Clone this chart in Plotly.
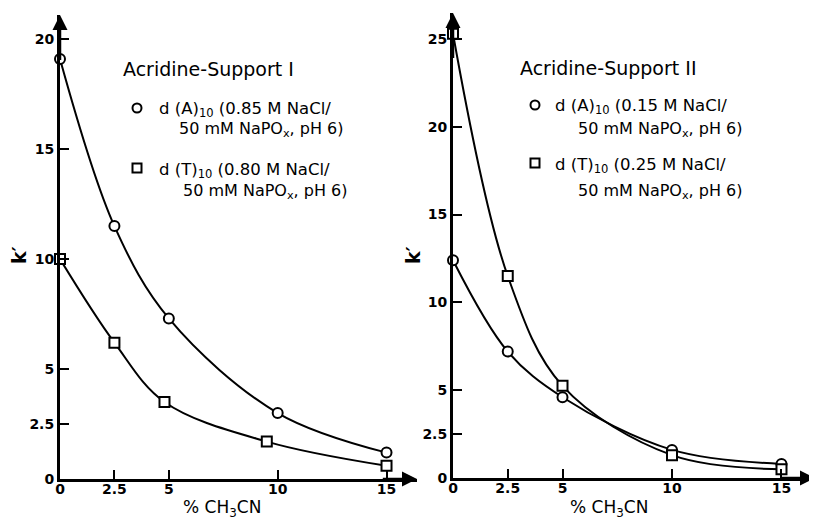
import plotly.graph_objects as go

# the page body adds an 8px margin, so the figure is drawn 8px smaller
OFF = 8
W, H = 817 - OFF, 525 - OFF

# ---- data ----
left_a_x = [0, 2.5, 5, 10, 15]
left_a_y = [19.1, 11.5, 7.3, 3.0, 1.2]
left_t_x = [0, 2.5, 4.8, 9.5, 15]
left_t_y = [10.0, 6.2, 3.5, 1.7, 0.6]

right_a_x = [0, 2.5, 5, 10, 15]
right_a_y = [12.4, 7.2, 4.6, 1.6, 0.8]
right_t_x = [0, 2.5, 5, 10, 15]
right_t_y = [25.3, 11.5, 5.25, 1.3, 0.5]

left_xticks = [0, 2.5, 5, 10, 15]
left_yticks = [0, 2.5, 5, 10, 15, 20]
right_xticks = [0, 2.5, 5, 10, 15]
right_yticks = [0, 2.5, 5, 10, 15, 20, 25]
tick_text = {0: "0", 2.5: "2.5", 5: "5", 10: "10", 15: "15", 20: "20", 25: "25"}

left_title = "Acridine-Support I"
right_title = "Acridine-Support II"
left_labels = [("d (A)<sub>10</sub> (0.85 M NaCl/", "50 mM NaPO<sub>x</sub>, pH 6)"),
               ("d (T)<sub>10</sub> (0.80 M NaCl/", "50 mM NaPO<sub>x</sub>, pH 6)")]
right_labels = [("d (A)<sub>10</sub> (0.15 M NaCl/", "50 mM NaPO<sub>x</sub>, pH 6)"),
                ("d (T)<sub>10</sub> (0.25 M NaCl/", "50 mM NaPO<sub>x</sub>, pH 6)")]
x_title = "% CH<sub>3</sub>CN"
y_title = "k′"

FONT = "DejaVu Sans"


def px(x):
    return (x - OFF) / W


def py(y):
    return 1 - (y - OFF) / H


fig = go.Figure()

line = dict(color="black", width=2, shape="spline", smoothing=1.0)


def add_series(xs, ys, symbol, xa, ya):
    fig.add_trace(go.Scatter(
        x=xs, y=ys, mode="lines+markers", xaxis=xa, yaxis=ya,
        line=line, cliponaxis=False, showlegend=False,
        marker=dict(symbol=symbol, size=10, color="white",
                    line=dict(color="black", width=2))))


add_series(left_a_x, left_a_y, "circle", "x", "y")
add_series(left_t_x, left_t_y, "square", "x", "y")
add_series(right_a_x, right_a_y, "circle", "x2", "y2")
add_series(right_t_x, right_t_y, "square", "x2", "y2")

# axis geometry (pixels in the reference)
LX0, LX1, LY0, LY1 = 60, 417, 479, 15
RX0, RX1, RY0, RY1 = 453, 815, 478, 13
lxr = 16.4
lyr = 21.1
rxr = 16.53
ryr = 26.48

axis_common = dict(showline=True, linecolor="black", linewidth=3,
                   ticks="inside", ticklen=9, tickwidth=2, tickcolor="black",
                   showgrid=False, zeroline=False, automargin=False,
                   tickfont=dict(family=FONT, size=14, color="black", weight="bold"))

fig.update_layout(
    width=W, height=H, autosize=False,
    margin=dict(l=0, r=0, t=0, b=0),
    plot_bgcolor="white", paper_bgcolor="white",
    xaxis=dict(domain=[px(LX0), px(LX1)], range=[0, lxr], anchor="y", ticklabelstandoff=-5,
               tickvals=left_xticks, ticktext=[tick_text[v] for v in left_xticks], **axis_common),
    yaxis=dict(domain=[py(LY0), py(LY1)], range=[0, lyr], anchor="x",
               tickvals=left_yticks, ticktext=[tick_text[v] for v in left_yticks], **axis_common),
    xaxis2=dict(domain=[px(RX0), px(RX1)], range=[0, rxr], anchor="y2", ticklabelstandoff=-5,
                tickvals=right_xticks, ticktext=[tick_text[v] for v in right_xticks], **axis_common),
    yaxis2=dict(domain=[py(RY0), py(RY1)], range=[0, ryr], anchor="x2",
                tickvals=right_yticks, ticktext=[tick_text[v] for v in right_yticks], **axis_common),
)

ann = []
# arrowheads on axes
for xr, yr, xmax, ymax in [("x", "y", lxr, lyr), ("x2", "y2", rxr, ryr)]:
    ann.append(dict(x=xmax, y=0, ax=xmax * 0.9, ay=0, xref=xr, yref=yr, axref=xr, ayref=yr,
                    showarrow=True, arrowhead=2, arrowsize=1.2, arrowwidth=2.5,
                    arrowcolor="black", text="", standoff=0))
    ann.append(dict(x=0, y=ymax, ax=0, ay=ymax * 0.9, xref=xr, yref=yr, axref=xr, ayref=yr,
                    showarrow=True, arrowhead=2, arrowsize=1.2, arrowwidth=2.5,
                    arrowcolor="black", text="", standoff=0))


def text(x, y, s, size=14, xanchor="left", angle=0, weight="normal"):
    ann.append(dict(x=px(x), y=py(y), xref="paper", yref="paper", text=s,
                    showarrow=False, xanchor=xanchor, yanchor="middle",
                    textangle=angle,
                    font=dict(family=FONT, size=size, color="black", weight=weight)))


# axis titles
text(19, 255, y_title, 19, "center", -90, "bold")
text(413, 255, y_title, 19, "center", -90, "bold")
text(222, 508, x_title, 17, "center")
text(609, 508, x_title, 17, "center")

# panel titles and keys
text(121, 69, left_title, 19)
text(157, 110, left_labels[0][0], 16.5)
text(177, 129, left_labels[0][1], 16)
text(157, 170, left_labels[1][0], 16.5)
text(181, 191, left_labels[1][1], 16)

text(518, 68, right_title, 19)
text(553, 107, right_labels[0][0], 16.5)
text(576, 130, right_labels[0][1], 16)
text(553, 165, right_labels[1][0], 16.5)
text(576, 191, right_labels[1][1], 16)

fig.update_layout(annotations=ann)

shapes = []
for cx, cy in [(137, 108), (535, 105)]:
    shapes.append(dict(type="circle", xref="paper", yref="paper",
                       x0=px(cx - 4.5), x1=px(cx + 4.5), y0=py(cy + 4.5), y1=py(cy - 4.5),
                       line=dict(color="black", width=2)))
for cx, cy in [(137, 168), (535, 163)]:
    shapes.append(dict(type="rect", xref="paper", yref="paper",
                       x0=px(cx - 4.5), x1=px(cx + 4.5), y0=py(cy + 4.5), y1=py(cy - 4.5),
                       line=dict(color="black", width=2)))
fig.update_layout(shapes=shapes)

fig.write_html("out.html")
